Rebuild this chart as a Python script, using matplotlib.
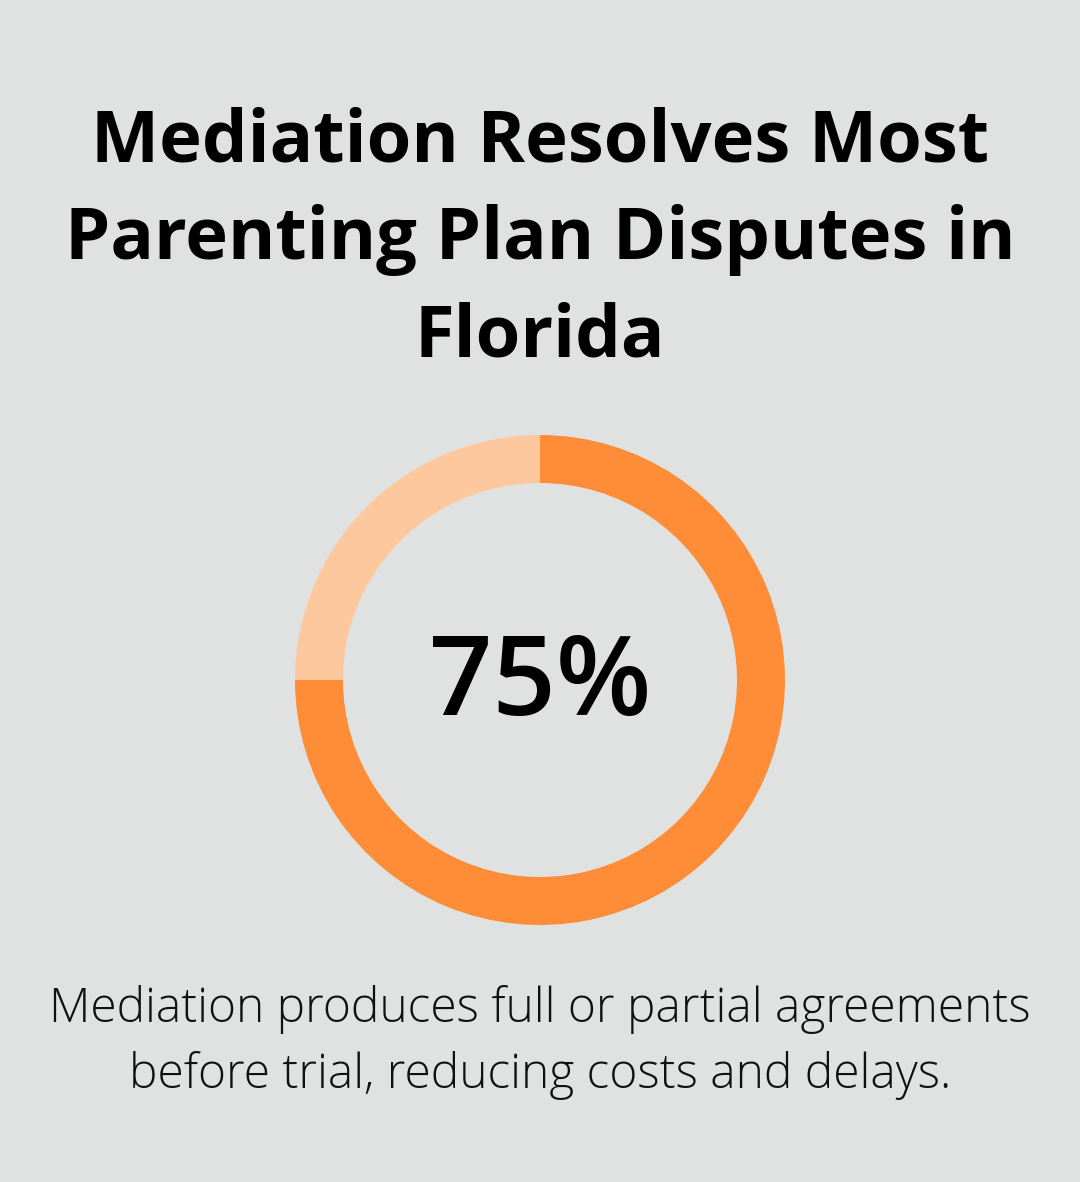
import matplotlib
matplotlib.use('Agg')
import matplotlib.pyplot as plt

W, H = 1080, 1182
bg = '#e0e2e1'

title_lines = ['Mediation Resolves Most', 'Parenting Plan Disputes in', 'Florida']
values = [75, 25]
colors = ['#ff8c36', '#fec89e']
center_label = '75%'
caption_lines = ['Mediation produces full or partial agreements',
                 'before trial, reducing costs and delays.']

fig = plt.figure(figsize=(W / 100, H / 100), dpi=100, facecolor=bg)

def fy(py):
    return 1 - py / H

# title
for i, line in enumerate(title_lines):
    fig.text(0.5, fy(143 + i * 97), line, ha='center', va='center',
             fontsize=52, fontweight='bold', family='Open Sans', color='black')

# donut
cx, cy, r, ring = 540, 680, 245, 48
ax = fig.add_axes([(cx - r) / W, (H - cy - r) / H, 2 * r / W, 2 * r / H])
ax.set_facecolor(bg)
ax.pie(values, colors=colors, startangle=90, counterclock=False, radius=1,
       wedgeprops=dict(width=ring / r, linewidth=0))
ax.set_xlim(-1, 1)
ax.set_ylim(-1, 1)
ax.set_aspect('equal')
ax.axis('off')
ax.text(0, -6 / r, center_label, ha='center', va='center', fontsize=80,
        fontweight='semibold', family='Open Sans', color='black')

# caption
for i, line in enumerate(caption_lines):
    fig.text(0.5, fy(1009 + i * 66), line, ha='center', va='center',
             fontsize=34.5, fontweight='light', family='Open Sans', color='#111111')

fig.savefig('out.png', dpi=100, facecolor=bg)
